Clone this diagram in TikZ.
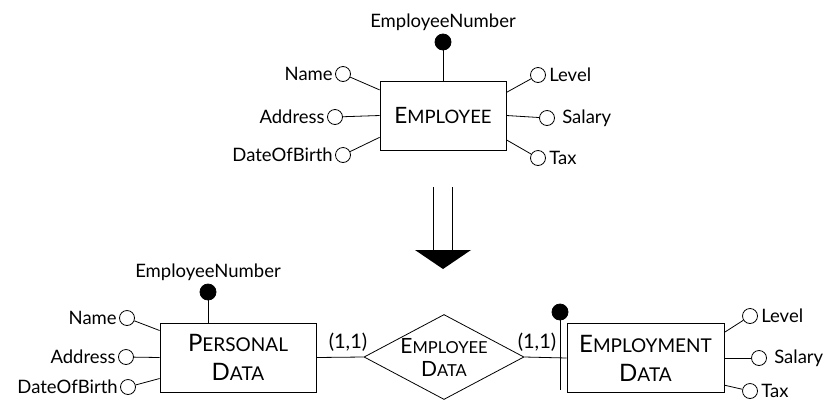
\documentclass[tikz,border=0pt]{standalone}
\usepackage{fontspec}
\setmainfont{Lato}
\usetikzlibrary{positioning,shapes.geometric}
\newcommand{\fakesc}[2]{{\fontsize{\bigsz}{\bigsz}\selectfont #1}{\fontsize{\smsz}{\smsz}\selectfont #2}}

\begin{document}
\begin{tikzpicture}[x=1pt, y=-1pt, line width=0.8pt,
  attr/.style={draw, circle, minimum size=15pt, inner sep=0pt},
  key/.style={draw, circle, fill, minimum size=16pt, inner sep=0pt},
  ent/.style={draw, rectangle, minimum height=69pt, inner sep=0pt, align=center},
  rel/.style={draw, diamond, aspect=1.88, minimum width=160pt, minimum height=85pt, inner sep=-6pt, align=center},
  lbl/.style={inner sep=2pt, font=\fontsize{18.5}{20}\selectfont}]
  \useasboundingbox (0,0) rectangle (827,408);

  % top entity
  \node[ent, minimum width=126pt, font={\def\bigsz{22.5}\def\smsz{18.5}}] (emp) at (443,115.5) {\fakesc{E}{MPLOYEE}};
  \node[key] (k1) at (443,42) {};
  \node[lbl, above=1pt of k1] (k1t) {EmployeeNumber};
  \node[attr] (a1) at (343,74) {};
  \node[attr] (a2) at (335,117) {};
  \node[attr] (a3) at (343,155) {};
  \node[attr] (a4) at (538,75) {};
  \node[attr] (a5) at (547,118) {};
  \node[attr] (a6) at (538,158) {};
  \node[lbl, left=0pt of a1] (a1t) {Name};
  \node[lbl, left=0pt of a2] (a2t) {Address};
  \node[lbl, left=0pt of a3] (a3t) {DateOfBirth};
  \node[lbl, right=1pt of a4] (a4t) {Level};
  \node[lbl, right=5pt of a5] (a5t) {Salary};
  \node[lbl, right=1pt of a6] (a6t) {Tax};
  \draw (k1) -- (k1 |- emp.north);
  \draw (a1) -- (emp.158);
  \draw (a2) -- (emp.west);
  \draw (a3) -- (emp.199);
  \draw (a4) -- (emp.20);
  \draw (a5) -- (emp.east);
  \draw (a6) -- (emp.339);

  % arrow
  \draw (433,187) -- (433,250);
  \draw (452,187) -- (452,250);
  \fill (415,250) -- (471,250) -- (443,269) -- cycle;

  % bottom schema
  \node[ent, minimum width=156pt, font={\def\bigsz{24}\def\smsz{19}\fontsize{19}{29}\selectfont}] (pd) at (238,357.5) {\fakesc{P}{ERSONAL}\\\fakesc{D}{ATA}};
  \node[rel, font={\def\bigsz{21}\def\smsz{16.5}\fontsize{16.5}{23}\selectfont}] (ed) at (444,357) {\fakesc{E}{MPLOYEE}\\\fakesc{D}{ATA}};
  \node[ent, minimum width=157pt, font={\def\bigsz{24}\def\smsz{19}\fontsize{19}{29}\selectfont}] (emd) at (645.5,358) {\fakesc{E}{MPLOYMENT}\\\fakesc{D}{ATA}};

  \node[key] (k2) at (208,292) {};
  \node[lbl, above=1pt of k2] (k2t) {EmployeeNumber};
  \node[attr] (b1) at (127,318) {};
  \node[attr] (b2) at (126,357) {};
  \node[attr] (b3) at (128,387) {};
  \node[lbl, left=0pt of b1] (b1t) {Name};
  \node[lbl, left=0pt of b2] (b2t) {Address};
  \node[lbl, left=0pt of b3] (b3t) {DateOfBirth};
  \draw (k2) -- (k2 |- pd.north);
  \draw (b1) -- (pd.161);
  \draw (b2) -- (pd.west);
  \draw (b3) -- (pd.195);

  \node[key] (k3) at (560,312) {};
  \coordinate (k3e) at (560,390);
  \draw (k3) -- (k3e);
  \node[attr] (c1) at (750,316) {};
  \node[attr] (c2) at (759,358) {};
  \node[attr] (c3) at (750,391) {};
  \node[lbl, right=1pt of c1] (c1t) {Level};
  \node[lbl, right=5pt of c2] (c2t) {Salary};
  \node[lbl, right=1pt of c3] (c3t) {Tax};
  \draw (c1) -- (emd.18);
  \draw (c2) -- (emd.east);
  \draw (c3) -- (emd.341);

  \draw (pd.east) -- (ed.west);
  \draw (ed.east) -- (emd.west);
  \node[lbl, font=\fontsize{20}{20}\selectfont] (card1) at (348,342) {(1,1)};
  \node[lbl, font=\fontsize{20}{20}\selectfont] (card2) at (537,342) {(1,1)};
\end{tikzpicture}
\end{document}
